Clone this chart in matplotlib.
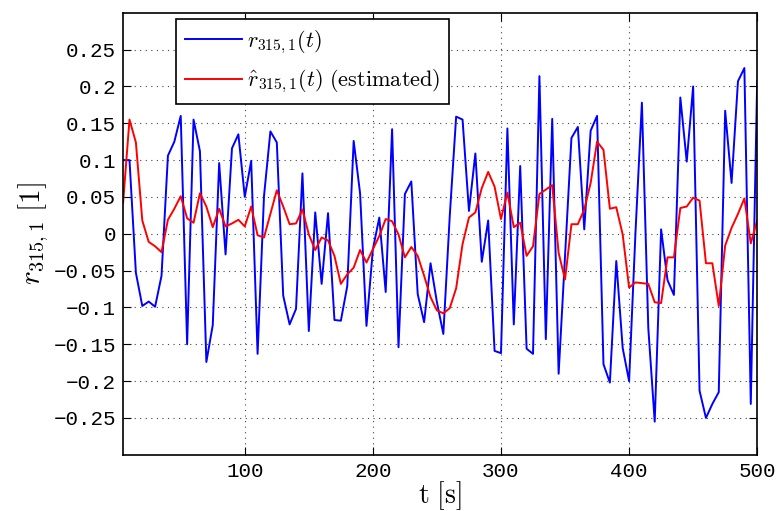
import numpy as np
import matplotlib
matplotlib.use("Agg")
import matplotlib.pyplot as plt

plt.rcParams['mathtext.fontset'] = 'cm'

# sample times [s]
t = np.arange(5, 501, 5)

# measured r_315,1(t)
r_meas = [
    0.100, 0.100, -0.053, -0.098, -0.092, -0.099, -0.057, 0.106, 0.125, 0.160,
    -0.150, 0.155, 0.112, -0.174, -0.124, 0.096, -0.028, 0.116, 0.135, 0.050,
    0.099, -0.163, 0.051, 0.139, 0.124, -0.084, -0.123, -0.102, 0.082, -0.132,
    0.029, -0.068, 0.028, -0.117, -0.118, -0.071, 0.126, 0.055, -0.125, -0.021,
    0.022, -0.079, 0.142, -0.154, 0.054, 0.071, -0.082, -0.120, -0.040, -0.093,
    -0.136, 0.024, 0.159, 0.155, 0.031, 0.109, -0.038, 0.018, -0.159, -0.162,
    0.143, -0.123, 0.092, -0.156, -0.163, 0.214, -0.143, 0.156, -0.190, -0.030,
    0.130, 0.145, 0.006, 0.140, 0.160, -0.177, -0.202, -0.037, -0.155, -0.200,
    0.002, 0.178, -0.128, -0.255, 0.006, -0.063, -0.083, 0.185, 0.098, 0.200,
    -0.213, -0.250, -0.231, -0.215, 0.167, 0.069, 0.207, 0.225, -0.231, 0.208,
]

# estimated r_315,1(t)
r_est = [
    0.042, 0.155, 0.124, 0.018, -0.011, -0.017, -0.025, 0.019, 0.034, 0.051,
    0.021, 0.015, 0.055, 0.037, 0.009, 0.034, 0.010, 0.014, 0.019, 0.010,
    0.037, -0.002, -0.005, 0.027, 0.059, 0.037, 0.013, 0.014, 0.033, -0.001,
    -0.022, -0.005, -0.009, -0.030, -0.068, -0.055, -0.046, -0.022, -0.039, -0.021,
    -0.003, 0.020, 0.017, -0.001, -0.032, -0.018, -0.030, -0.057, -0.086, -0.104,
    -0.108, -0.101, -0.074, -0.014, 0.022, 0.029, 0.062, 0.084, 0.064, 0.020,
    0.056, 0.009, 0.015, -0.030, -0.017, 0.054, 0.060, 0.066, -0.026, -0.062,
    0.013, 0.013, 0.033, 0.069, 0.125, 0.114, 0.034, 0.036, -0.001, -0.073,
    -0.066, -0.067, -0.068, -0.093, -0.094, -0.032, -0.032, 0.035, 0.037, 0.049,
    0.045, -0.040, -0.040, -0.098, -0.016, 0.008, 0.027, 0.048, -0.013, 0.018,
]

yticks = [-0.25, -0.2, -0.15, -0.1, -0.05, 0, 0.05, 0.1, 0.15, 0.2, 0.25]
ytick_labels = ['\u22120.25', '\u22120.2', '\u22120.15', '\u22120.1', '\u22120.05', '0',
                '0.05', '0.1', '0.15', '0.2', '0.25']
xticks = [100, 200, 300, 400, 500]

fig = plt.figure(figsize=(7.79, 5.11), dpi=100)
ax = fig.add_axes([0.158, 0.11, 0.814, 0.865])

ax.plot(t, r_meas, color='#0000ff', lw=1.4, label=r'$r_{\mathbf{315,1}}(t)$')
ax.plot(t, r_est, color='#ff0000', lw=1.4,
        label=r'$\hat{r}_{\mathbf{315,1}}(t)\ \mathrm{(estimated)}$')

ax.set_xlim(5, 500)
ax.set_ylim(-0.3, 0.3)
ax.set_xticks(xticks)
ax.set_yticks(yticks)
ax.set_yticklabels(ytick_labels)
for lab in ax.get_xticklabels() + ax.get_yticklabels():
    lab.set_family('Liberation Mono')
    lab.set_fontsize(15)

ax.tick_params(direction='in', top=True, right=True, length=6, width=0.8, pad=5)
ax.grid(True, color='#444444', linestyle=(0, (1, 4)), linewidth=0.8)
for s in ax.spines.values():
    s.set_linewidth(1.2)

ax.set_xlabel(r'$\mathrm{t\ [s]}$', fontsize=20, labelpad=-1)
ax.set_ylabel(r'$r_{\mathbf{315,1}}\ \mathrm{[1]}$', fontsize=21, labelpad=2)

leg = ax.legend(loc='upper left', bbox_to_anchor=(0.083, 0.985), fontsize=16,
                fancybox=False, framealpha=1, edgecolor='black',
                handlelength=2.6, handletextpad=0.2, borderpad=0.4,
                labelspacing=0.55, borderaxespad=0)
leg.get_frame().set_linewidth(1.2)

fig.savefig('out.png', dpi=100)
